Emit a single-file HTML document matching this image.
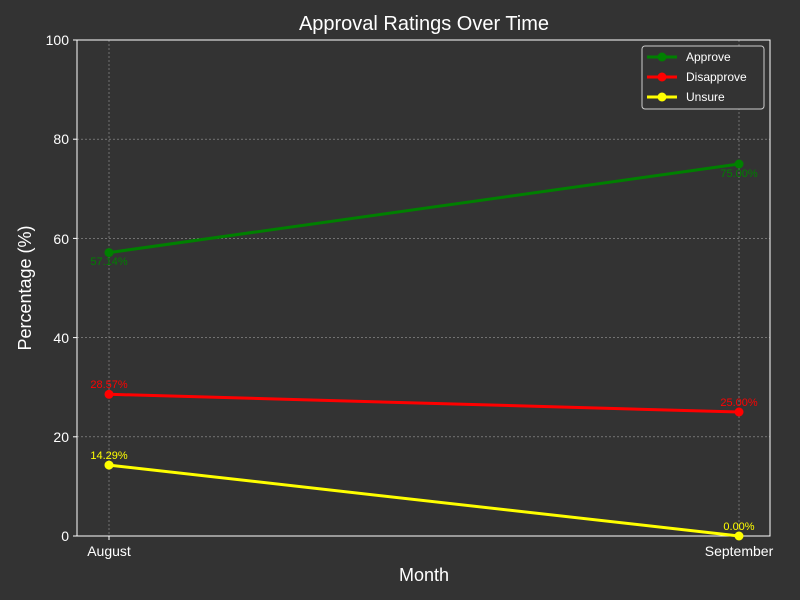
<!DOCTYPE html>
<html><head><style>body{margin:0;background:#333;}svg{display:block}</style></head>
<body>
<svg width="800" height="600" xmlns="http://www.w3.org/2000/svg" font-family="Liberation Sans, DejaVu Sans, sans-serif">
<rect width="800" height="600" fill="#333"/>
<g stroke="#999" stroke-width="0.6" stroke-dasharray="2,2">
<line x1="109" y1="40" x2="109" y2="536"/><line x1="739" y1="40" x2="739" y2="536"/>
<line x1="77" y1="436.8" x2="770" y2="436.8"/><line x1="77" y1="337.6" x2="770" y2="337.6"/>
<line x1="77" y1="238.4" x2="770" y2="238.4"/><line x1="77" y1="139.2" x2="770" y2="139.2"/>
</g>
<rect x="77" y="40" width="693" height="496" fill="none" stroke="#fff" stroke-width="1"/>
<g stroke="#fff"><line x1="109" y1="536" x2="109" y2="540"/><line x1="739" y1="536" x2="739" y2="540"/>
<line x1="73" y1="536" x2="77" y2="536"/><line x1="73" y1="436.8" x2="77" y2="436.8"/><line x1="73" y1="337.6" x2="77" y2="337.6"/><line x1="73" y1="238.4" x2="77" y2="238.4"/><line x1="73" y1="139.2" x2="77" y2="139.2"/><line x1="73" y1="40" x2="77" y2="40"/></g>
<g fill="#fff" font-size="14" text-anchor="end">
<text x="69" y="541">0</text><text x="69" y="442">20</text><text x="69" y="343">40</text><text x="69" y="244">60</text><text x="69" y="144">80</text><text x="69" y="45">100</text></g>
<g fill="#fff" font-size="14" text-anchor="middle"><text x="109" y="556">August</text><text x="739" y="556">September</text></g>
<text x="424" y="581" fill="#fff" font-size="18" text-anchor="middle">Month</text>
<text transform="translate(31,288) rotate(-90)" fill="#fff" font-size="18" text-anchor="middle">Percentage (%)</text>
<text x="424" y="30" fill="#fff" font-size="20" text-anchor="middle">Approval Ratings Over Time</text>
<polyline points="109,252.6 739,164" stroke="#008000" stroke-width="3" fill="none"/>
<polyline points="109,394.3 739,412" stroke="#f00" stroke-width="3" fill="none"/>
<polyline points="109,465.1 739,536" stroke="#ff0" stroke-width="3" fill="none"/>
<g fill="#008000"><circle cx="109" cy="252.6" r="4.5"/><circle cx="739" cy="164" r="4.5"/></g>
<g fill="#f00"><circle cx="109" cy="394.3" r="4.5"/><circle cx="739" cy="412" r="4.5"/></g>
<g fill="#ff0"><circle cx="109" cy="465.1" r="4.5"/><circle cx="739" cy="536" r="4.5"/></g>
<g font-size="11" text-anchor="middle">
<text x="109" y="265" fill="#008000">57.14%</text><text x="739" y="177" fill="#008000">75.00%</text>
<text x="109" y="388" fill="#f00">28.57%</text><text x="739" y="406" fill="#f00">25.00%</text>
<text x="109" y="459" fill="#ff0">14.29%</text><text x="739" y="530" fill="#ff0">0.00%</text></g>
<rect x="642" y="46" width="122" height="63" rx="3" fill="#333" stroke="#ccc" stroke-width="1"/>
<line x1="647" y1="57" x2="677" y2="57" stroke="#008000" stroke-width="3"/><circle cx="662" cy="57" r="4.5" fill="#008000"/>
<line x1="647" y1="77" x2="677" y2="77" stroke="#f00" stroke-width="3"/><circle cx="662" cy="77" r="4.5" fill="#f00"/>
<line x1="647" y1="97" x2="677" y2="97" stroke="#ff0" stroke-width="3"/><circle cx="662" cy="97" r="4.5" fill="#ff0"/>
<g fill="#fff" font-size="12"><text x="686" y="61">Approve</text><text x="686" y="81">Disapprove</text><text x="686" y="101">Unsure</text></g>
</svg>
</body></html>
